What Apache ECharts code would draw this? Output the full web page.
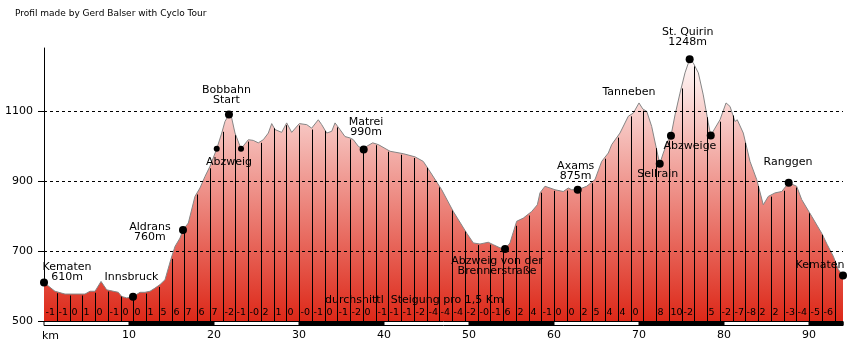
<!DOCTYPE html>
<html>
<head>
<meta charset="utf-8">
<script src="https://cdn.jsdelivr.net/npm/echarts@6/dist/echarts.min.js"></script>
<style>
  html, body { margin: 0; padding: 0; background: #fff; }
  #chart { width: 852px; height: 343px; }
</style>
</head>
<body>
<div id="chart"></div>
<script>
// Elevation profile of the tour: distance (km) and altitude (m)
const profileKm = [
  0.00, 1.29, 2.47, 4.82, 5.41, 6.00, 6.71, 7.38, 8.74, 9.14, 9.73, 10.47, 11.29, 11.88,
  12.47, 13.06, 13.65, 14.24, 14.91, 15.41, 16.00, 16.35, 16.98, 17.76, 18.35, 18.94, 19.53,
  20.32, 20.91, 21.29, 21.76, 22.08, 22.47, 23.18, 24.04, 24.62, 25.21, 25.80, 26.39, 26.79,
  27.18, 27.96, 28.55, 29.14, 30.04, 30.91, 31.49, 32.27, 32.67, 33.26, 33.85, 34.24, 34.82,
  35.41, 36.00, 36.39, 36.98, 37.61, 37.96, 38.67, 39.33, 40.71, 42.27, 43.65, 44.62, 45.41,
  46.79, 48.15, 49.73, 50.51, 51.29, 52.27, 52.86, 53.65, 54.24, 54.82, 55.61, 56.39, 57.38,
  58.04, 58.35, 58.94, 60.12, 61.09, 61.68, 62.08, 62.79, 63.85, 64.82, 65.61, 66.39, 66.79,
  67.76, 68.74, 69.33, 70.00, 70.44, 70.91, 71.49, 72.08, 72.44, 72.86, 73.45, 73.76, 74.24,
  74.82, 75.41, 75.96, 76.39, 76.98, 77.56, 78.15, 78.44, 78.94, 79.53, 80.24, 80.71, 81.29,
  81.56, 82.27, 83.06, 83.85, 84.62, 85.21, 86.00, 86.79, 87.61, 88.55, 89.14, 90.32, 91.49,
  92.15, 92.86, 93.45, 94.00
];
const profileElev = [
  610, 585, 577, 577, 585, 585, 613, 589, 582, 570, 566, 569, 582, 582,
  585, 594, 604, 618, 675, 713, 737, 760, 780, 856, 880, 913, 942,
  992, 1037, 1070, 1090, 1080, 1037, 992, 1018, 1016, 1009, 1018, 1037, 1064,
  1047, 1039, 1066, 1039, 1064, 1061, 1051, 1075, 1061, 1037, 1042, 1066, 1047,
  1027, 1023, 1018, 999, 990, 999, 1009, 1004, 985, 978, 969, 956, 927,
  875, 813, 751, 723, 720, 725, 718, 709, 706, 723, 785, 794, 813,
  832, 866, 885, 875, 870, 880, 875, 875, 885, 904, 956, 980, 1004,
  1037, 1085, 1094, 1123, 1106, 1099, 1056, 989, 949, 980, 1018, 1029, 1089,
  1151, 1209, 1248, 1237, 1209, 1146, 1066, 1030, 1051, 1075, 1123, 1113, 1070,
  1075, 1037, 956, 904, 832, 856, 866, 870, 895, 885, 847, 799, 751,
  718, 685, 647, 630
];

// Waypoints marked with a dot
const dotKm   = [0.00, 10.47, 16.35, 20.32, 21.76, 23.18, 37.61, 54.24, 62.79, 72.44, 73.76, 75.96, 78.44, 87.61, 94.00];
const dotElev = [610, 569, 760, 992, 1090, 992, 990, 706, 875, 949, 1029, 1248, 1030, 895, 630];
const dotMinor = [false, false, false, true, false, true, false, false, false, false, false, false, false, false, false];

// Place names
const placeNames = [
  'Kematen\n610m', 'Innsbruck', 'Aldrans\n760m', 'Bobbahn\nStart', 'Abzweig',
  'Matrei\n990m', 'Abzweig von der\nBrennerstraße', 'Axams\n875m', 'Tanneben',
  'St. Quirin\n1248m', 'Abzweige', 'Sellrain', 'Ranggen', 'Kematen'
];
const placeKm   = [0.00, 10.47, 16.35, 21.76, 20.32, 37.61, 54.24, 62.79, 70.00, 75.96, 73.76, 72.44, 87.61, 94.00];
const placeElev = [610, 569, 760, 1090, 992, 990, 706, 875, 1123, 1248, 1029, 949, 895, 630];

// Average gradient (%) for each 1.5 km section
const segmentLength = 1.5;
const gradeLabels = [
  '-1', '-1', '0', '1', '0', '-1', '0', '0', '1', '5', '6', '7', '6', '7', '-2', '-1',
  '-0', '2', '1', '0', '-0', '-1', '0', '-1', '-2', '0', '-1', '-1', '-1', '-2', '-4', '-4',
  '-4', '-2', '-0', '-1', '6', '2', '4', '-1', '0', '0', '2', '5', '4', '4', '0', '',
  '8', '10', '-2', '', '5', '-2', '-7', '-8', '2', '2', '-3', '-4', '-5', '-6'
];

// Axis ticks
const yTicks = [500, 700, 900, 1100];
const gridLevels = [700, 900, 1100];
const xTickStep = 10;
const distanceKm = 94;

// Label placement (pixel offset of the text centre from its anchor point)
const placeOffsets = [
  [23, -10], [-1.5, -20], [-33, 2], [-2.5, -19.5], [12.3, 13.6],
  [2.3, -22.3], [-8, 17], [-2, -19], [-10, -10.5],
  [-2, -22], [19, 10.5], [-2, 10.3], [-0.7, -20.3], [-23, -10.7]
];

const FONT_FAMILY = '"DejaVu Sans", sans-serif';

function elevAt(km) {
  for (let i = 1; i < profileKm.length; i++) {
    if (km <= profileKm[i]) {
      const t = (km - profileKm[i - 1]) / (profileKm[i] - profileKm[i - 1]);
      return profileElev[i - 1] + t * (profileElev[i] - profileElev[i - 1]);
    }
  }
  return profileElev[profileElev.length - 1];
}

const profile = profileKm.map((k, i) => [k, profileElev[i]]);
const sectionMarks = [];
for (let i = 1; i * segmentLength < distanceKm; i++) {
  const k = i * segmentLength;
  sectionMarks.push([k, elevAt(k)]);
}

const chart = echarts.init(document.getElementById('chart'), null, { renderer: 'canvas' });

const option = {
  animation: false,
  backgroundColor: '#fff',
  grid: { left: 44, right: 9, top: 48, bottom: 22, containLabel: false },
  xAxis: {
    type: 'value',
    min: 0,
    max: distanceKm,
    interval: xTickStep,
    axisLine: { show: false },
    axisTick: { show: false },
    splitLine: { show: false },
    axisLabel: {
      margin: 9,
      color: '#000',
      fontFamily: FONT_FAMILY,
      fontSize: 11,
      showMaxLabel: false,
      formatter: v => (v === 0 ? '' : String(v))
    }
  },
  yAxis: {
    type: 'value',
    min: 500,
    max: 1280,
    axisLine: { show: true, lineStyle: { color: '#000', width: 1 } },
    axisTick: { show: true, length: 6, customValues: yTicks, lineStyle: { color: '#000' } },
    splitLine: { show: false },
    axisLabel: {
      margin: 11,
      color: '#000',
      fontFamily: FONT_FAMILY,
      fontSize: 11,
      customValues: yTicks,
      formatter: v => String(v)
    }
  },
  graphic: [
    {
      type: 'text', left: 15, top: 9,
      style: { text: 'Profil made by Gerd Balser with Cyclo Tour', font: '9px ' + FONT_FAMILY, fill: '#000' }
    },
    {
      type: 'text', left: 42, top: 331,
      style: { text: 'km', font: '11px ' + FONT_FAMILY, fill: '#000' }
    },
    {
      type: 'text', left: 325, top: 295, z: 20,
      style: { text: 'durchsnittl  Steigung pro 1,5 Km', font: '11px ' + FONT_FAMILY, fill: '#000' }
    }
  ],
  series: [
    {
      // terrain profile
      type: 'line',
      data: profile,
      symbol: 'none',
      z: 2,
      lineStyle: { color: '#858585', width: 1 },
      areaStyle: {
        origin: 'start',
        opacity: 1,
        color: new echarts.graphic.LinearGradient(0, 0, 0, 1, [
          { offset: 0, color: '#fffafa' },
          { offset: 1, color: '#dd2818' }
        ])
      }
    },
    {
      // section dividers every 1.5 km
      type: 'custom',
      z: 3,
      data: sectionMarks,
      encode: { x: 0, y: 1 },
      renderItem: (params, api) => {
        const p0 = api.coord([api.value(0), 500]);
        const p1 = api.coord([api.value(0), api.value(1)]);
        const x = Math.round(p0[0]) + 0.5;
        return {
          type: 'line',
          shape: { x1: x, y1: p0[1], x2: x, y2: p1[1] + 1.5 },
          style: { stroke: '#000', lineWidth: 1 }
        };
      }
    },
    {
      // distance scale band under the axis
      type: 'custom',
      z: 4,
      data: [[0, 500]],
      encode: { x: 0, y: 1 },
      renderItem: (params, api) => {
        const a = api.coord([0, 500]);
        const b = api.coord([distanceKm, 500]);
        const y = Math.round(a[1]) + 0.5;
        const children = [{
          type: 'rect',
          shape: { x: a[0], y: y, width: b[0] - a[0], height: 4 },
          style: { fill: '#fff', stroke: '#000', lineWidth: 1 }
        }];
        for (let k = xTickStep; k < distanceKm; k += 2 * xTickStep) {
          const s = api.coord([k, 500]);
          const e = api.coord([Math.min(k + xTickStep, distanceKm), 500]);
          children.push({
            type: 'rect',
            shape: { x: s[0], y: y, width: e[0] - s[0], height: 4 },
            style: { fill: '#000', stroke: '#000', lineWidth: 1 }
          });
        }
        return { type: 'group', children: children };
      }
    },
    {
      // waypoint dots + dashed altitude lines
      type: 'scatter',
      z: 6,
      data: dotKm.map((k, i) => ({
        value: [k, dotElev[i]],
        symbolSize: dotMinor[i] ? 6 : 8
      })),
      symbol: 'circle',
      itemStyle: { color: '#000', opacity: 1 },
      markLine: {
        silent: true,
        symbol: 'none',
        label: { show: false },
        lineStyle: { color: '#000', type: [3, 3], width: 1 },
        data: gridLevels.map(v => ({ yAxis: v }))
      }
    },
    {
      // place names
      type: 'custom',
      z: 7,
      data: placeKm.map((k, i) => [k, placeElev[i], i]),
      encode: { x: 0, y: 1 },
      renderItem: (params, api) => {
        const i = api.value(2);
        const p = api.coord([api.value(0), api.value(1)]);
        const off = placeOffsets[i];
        return {
          type: 'text',
          x: p[0] + off[0],
          y: p[1] + off[1],
          style: {
            text: placeNames[i],
            font: '11px ' + FONT_FAMILY,
            fill: '#000',
            align: 'center',
            verticalAlign: 'middle',
            lineHeight: 10
          }
        };
      }
    },
    {
      // gradient per section
      type: 'custom',
      z: 7,
      data: gradeLabels.map((g, i) => [i * segmentLength, 500, i]),
      encode: { x: 0, y: 1 },
      renderItem: (params, api) => {
        const i = api.value(2);
        const p = api.coord([api.value(0), 500]);
        return {
          type: 'text',
          x: Math.round(p[0]) + 1.5,
          y: p[1] - 8,
          style: {
            text: gradeLabels[i],
            font: '9.5px ' + FONT_FAMILY,
            fill: '#000',
            align: 'left',
            verticalAlign: 'middle'
          }
        };
      }
    }
  ]
};

chart.setOption(option);
</script>
</body>
</html>
